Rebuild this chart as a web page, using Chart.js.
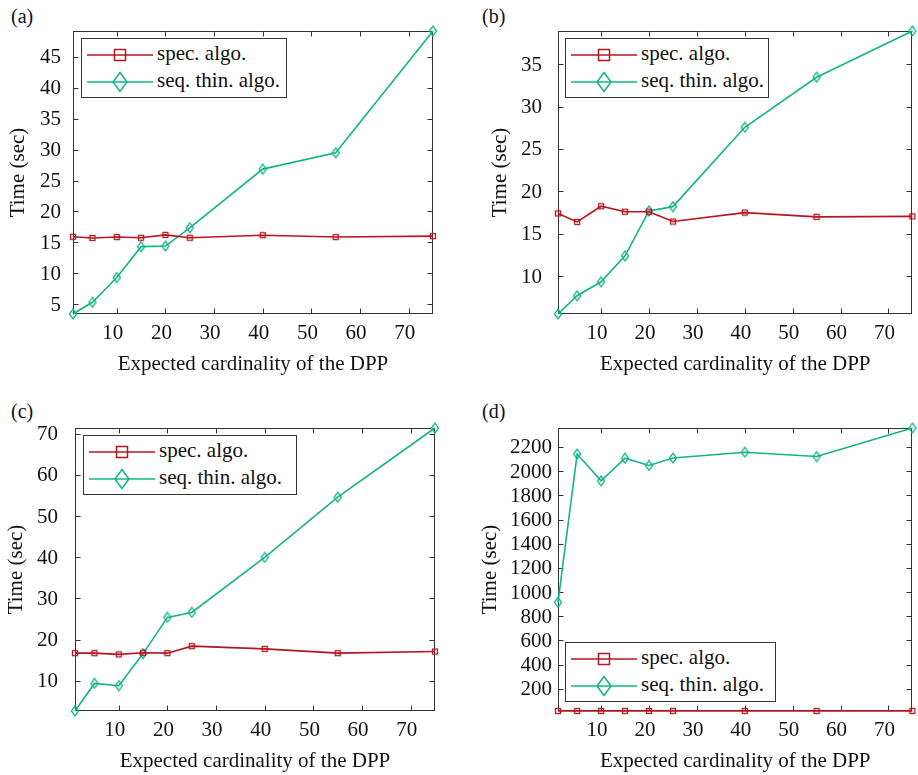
<!DOCTYPE html>
<html>
<head>
<meta charset="utf-8">
<script src="https://cdn.jsdelivr.net/npm/chart.js@4.4.0/dist/chart.umd.min.js"></script>
<style>
  body { margin: 0; background: #fff; width: 918px; height: 775px; position: relative; overflow: hidden; font-family: "Liberation Serif", "Times New Roman", serif; color: #111; }
  canvas { position: absolute; }
  .tag { position: absolute; font-size: 20px; line-height: 1; }
  .legend { position: absolute; border: 1px solid #333; background: #fff; box-sizing: border-box; }
  .legend svg { position: absolute; }
  .legend span { position: absolute; font-size: 21px; line-height: 1; white-space: nowrap; }
</style>
</head>
<body>
<div class="tag" style="left:11px;top:6px">(a)</div>
<div class="tag" style="left:482px;top:6px">(b)</div>
<div class="tag" style="left:11px;top:401px">(c)</div>
<div class="tag" style="left:482px;top:401px">(d)</div>
<canvas id="pa"></canvas>
<canvas id="pb"></canvas>
<canvas id="pc"></canvas>
<canvas id="pd"></canvas>
<script>
// data
const cardinality = [1, 5, 10, 15, 20, 25, 40, 55, 75];
const xTicks = [10, 20, 30, 40, 50, 60, 70];

const specA = [15.9, 15.7, 15.85, 15.75, 16.2, 15.75, 16.15, 15.85, 16.0];
const thinA = [3.4, 5.3, 9.3, 14.3, 14.4, 17.35, 26.85, 29.5, 49.2];
const yTicksA = [5, 10, 15, 20, 25, 30, 35, 40, 45];

const specB = [17.4, 16.4, 18.25, 17.6, 17.6, 16.45, 17.5, 17.0, 17.05];
const thinB = [5.55, 7.7, 9.35, 12.4, 17.7, 18.2, 27.55, 33.45, 38.9];
const yTicksB = [10, 15, 20, 25, 30, 35];

const specC = [16.7, 16.7, 16.4, 16.8, 16.7, 18.4, 17.75, 16.7, 17.1];
const thinC = [2.65, 9.35, 8.8, 16.6, 25.4, 26.6, 39.95, 54.6, 71.4];
const yTicksC = [10, 20, 30, 40, 50, 60, 70];

const specD = [16.3, 16.8, 16.5, 16.9, 16.6, 17.2, 16.9, 16.7, 17.0];
const thinD = [915, 2142, 1920, 2107, 2047, 2109, 2156, 2121, 2357];
const yTicksD = [200, 400, 600, 800, 1000, 1200, 1400, 1600, 1800, 2000, 2200];

const seriesNames = ['spec. algo.', 'seq. thin. algo.'];
const RED = '#b5161f';
const GREEN = '#12b487';
const AXIS = '#333333';
const FONT = '"Liberation Serif", "Times New Roman", serif';

// marker images (MATLAB-ish square and tall diamond)
function squareMarker() {
  const c = document.createElement('canvas');
  c.width = 8; c.height = 8;
  const g = c.getContext('2d');
  g.strokeStyle = RED; g.lineWidth = 1.3;
  g.strokeRect(1.5, 1.5, 5, 5);
  return c;
}
function diamondMarker() {
  const c = document.createElement('canvas');
  c.width = 10; c.height = 12;
  const g = c.getContext('2d');
  g.strokeStyle = GREEN; g.lineWidth = 1.3;
  g.beginPath();
  g.moveTo(5, 1.2); g.lineTo(8.6, 6); g.lineTo(5, 10.8); g.lineTo(1.4, 6); g.closePath();
  g.stroke();
  return c;
}
const sqImg = squareMarker();
const dmImg = diamondMarker();

// box + inward ticks on all four sides
const framePlugin = {
  id: 'frame',
  beforeDatasetsDraw(chart) {
    const { ctx, chartArea: a, scales: { x, y } } = chart;
    const L = Math.round(a.left) + 0.5, R = Math.round(a.right) - 0.5;
    const T = Math.round(a.top) + 0.5, B = Math.round(a.bottom) - 0.5;
    ctx.save();
    ctx.strokeStyle = AXIS;
    ctx.lineWidth = 1;
    ctx.strokeRect(L, T, R - L, B - T);
    ctx.beginPath();
    x.ticks.forEach(t => {
      const px = Math.round(x.getPixelForValue(t.value)) + 0.5;
      ctx.moveTo(px, B); ctx.lineTo(px, B - 5);
      ctx.moveTo(px, T); ctx.lineTo(px, T + 5);
    });
    y.ticks.forEach(t => {
      const py = Math.round(y.getPixelForValue(t.value)) + 0.5;
      ctx.moveTo(L, py); ctx.lineTo(L + 5, py);
      ctx.moveTo(R, py); ctx.lineTo(R - 5, py);
    });
    ctx.stroke();
    ctx.restore();
  }
};

function makePanel(id, pos, lay, spec, thin, yTicks, yMin, yMax) {
  const canvas = document.getElementById(id);
  canvas.style.left = pos[0] + 'px';
  canvas.style.top = pos[1] + 'px';
  canvas.width = pos[2];
  canvas.height = pos[3];
  const tickFont = { family: FONT, size: 21 };
  new Chart(canvas.getContext('2d'), {
    type: 'line',
    data: {
      datasets: [
        {
          label: seriesNames[0],
          data: cardinality.map((c, i) => ({ x: c, y: spec[i] })),
          borderColor: RED, borderWidth: 1.6,
          pointStyle: sqImg, pointRadius: 4, clip: false
        },
        {
          label: seriesNames[1],
          data: cardinality.map((c, i) => ({ x: c, y: thin[i] })),
          borderColor: GREEN, borderWidth: 1.6,
          pointStyle: dmImg, pointRadius: 4, clip: false
        }
      ]
    },
    options: {
      responsive: false,
      animation: false,
      events: [],
      layout: { padding: { left: 0, top: lay.top, right: lay.right, bottom: 0 } },
      plugins: { legend: { display: false }, tooltip: { enabled: false } },
      elements: { line: { tension: 0 } },
      scales: {
        x: {
          type: 'linear', min: 1, max: 75,
          afterBuildTicks: s => { s.ticks = xTicks.map(v => ({ value: v })); },
          afterFit: s => { s.height = 63; },
          grid: { display: false, drawTicks: false },
          border: { display: false },
          ticks: { font: tickFont, color: '#111', padding: 7, labelOffset: -4, maxRotation: 0, autoSkip: false, callback: v => String(v) },
          title: { display: true, text: 'Expected cardinality of the DPP', font: tickFont, color: '#111', padding: { top: 0, bottom: 0 } }
        },
        y: {
          type: 'linear', min: yMin, max: yMax,
          afterBuildTicks: s => { s.ticks = yTicks.map(v => ({ value: v })); },
          afterFit: s => { s.width = lay.yWidth; },
          grid: { display: false, drawTicks: false },
          border: { display: false },
          ticks: { font: tickFont, color: '#111', padding: lay.tickPad, labelOffset: 1, autoSkip: false, callback: v => String(v) },
          title: { display: true, text: 'Time (sec)', font: tickFont, color: '#111', padding: { top: lay.titlePad, bottom: 0 } }
        }
      }
    },
    plugins: [framePlugin]
  });
}

makePanel('pa', [0, 0, 459, 377], { top: 31, right: 26, yWidth: 73, tickPad: 12, titlePad: 6 }, specA, thinA, yTicksA, 3.4, 49.2);
makePanel('pb', [459, 0, 459, 377], { top: 31, right: 1, yWidth: 99, tickPad: 16, titlePad: 29 }, specB, thinB, yTicksB, 5.55, 38.9);
makePanel('pc', [0, 390, 459, 384], { top: 38, right: 24, yWidth: 75, tickPad: 17, titlePad: 4 }, specC, thinC, yTicksC, 2.65, 71.4);
makePanel('pd', [459, 390, 459, 384], { top: 38, right: 1, yWidth: 99, tickPad: 6, titlePad: 19 }, specD, thinD, yTicksD, 16.3, 2357);

// legend boxes drawn in html, placed inside each plot like the matlab legends
function makeLegend(left, top, width) {
  const box = document.createElement('div');
  box.className = 'legend';
  box.style.left = left + 'px';
  box.style.top = top + 'px';
  box.style.width = width + 'px';
  box.style.height = '60px';
  const rows = [
    { cy: 16, base: 22, color: RED, mark: '<rect x="27.5" y="-5.5" width="11" height="11" fill="none" stroke="' + RED + '" stroke-width="1.5"/>' },
    { cy: 42.5, base: 48.7, color: GREEN, mark: '<path d="M33,-9.5 L40,0 L33,9.5 L26,0 Z" fill="none" stroke="' + GREEN + '" stroke-width="1.5"/>' }
  ];
  rows.forEach((r, i) => {
    const svg = '<svg width="68" height="22" viewBox="0 -11 68 22" style="left:5px;top:' + (r.cy - 11) + 'px">' +
      '<line x1="0" y1="0" x2="66" y2="0" stroke="' + r.color + '" stroke-width="1.6"/>' + r.mark + '</svg>';
    box.insertAdjacentHTML('beforeend', svg);
    const s = document.createElement('span');
    s.textContent = seriesNames[i];
    s.style.left = '75px';
    s.style.top = (r.base - 17.6) + 'px';
    box.appendChild(s);
  });
  document.body.appendChild(box);
}
makeLegend(81, 38, 206);
makeLegend(565, 38, 204);
makeLegend(83, 435, 214);
makeLegend(565, 642, 211);
</script>
</body>
</html>
